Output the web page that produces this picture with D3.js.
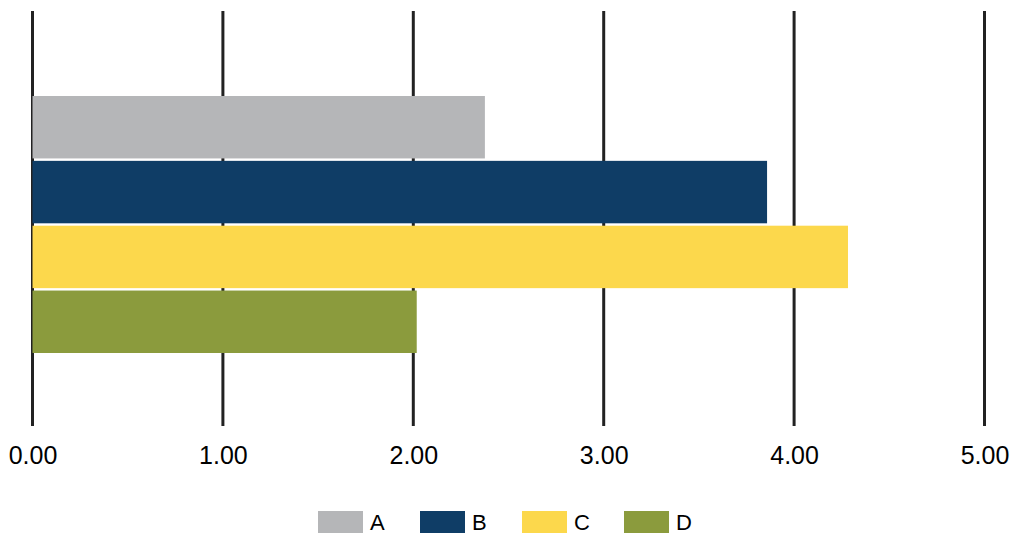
<!DOCTYPE html>
<html>
<head>
<meta charset="utf-8">
<script src="https://cdn.jsdelivr.net/npm/d3@7"></script>
<style>
  body { margin: 0; background: #fff; }
  svg text { font-family: "Liberation Sans", Helvetica, Arial, sans-serif; fill: #000; }
</style>
</head>
<body>
<svg id="chart" width="1011" height="535"></svg>
<script>
// chart data
const seriesNames = ["A", "B", "C", "D"];
const seriesValues = [2.376, 3.858, 4.283, 2.018];
const seriesColors = ["#b5b6b8", "#0f3d66", "#fcd84c", "#8b9b3d"];
const tickValues = [0, 1, 2, 3, 4, 5];

const svg = d3.select("#chart");

const x = d3.scaleLinear()
    .domain([0, 5])
    .range([32.5, 984.5]);

// bars inside the single category group
const y = d3.scaleBand()
    .domain(seriesNames)
    .range([96, 353])
    .paddingInner(0.037);

// vertical grid lines
svg.append("g")
    .selectAll("line")
    .data(tickValues)
    .enter().append("line")
    .attr("x1", d => x(d))
    .attr("x2", d => x(d))
    .attr("y1", 11)
    .attr("y2", 426)
    .attr("stroke", "#222")
    .attr("stroke-width", 3);

// bars
svg.append("g")
    .selectAll("rect")
    .data(seriesNames)
    .enter().append("rect")
    .attr("x", x(0))
    .attr("y", d => y(d))
    .attr("width", (d, i) => x(seriesValues[i]) - x(0))
    .attr("height", y.bandwidth())
    .attr("fill", (d, i) => seriesColors[i]);

// X axis labels
const xAxis = svg.append("g")
    .attr("transform", "translate(0,464)")
    .call(d3.axisBottom(x).tickValues(tickValues).tickFormat(d3.format(".2f")).tickSize(0).tickPadding(0));
xAxis.select(".domain").remove();
xAxis.selectAll("text")
    .attr("dy", null)
    .attr("y", 0)
    .style("font-size", "25px")
    .style("font-family", "\"Liberation Sans\", Helvetica, Arial, sans-serif")
    .attr("fill", "#000");

// Legend
const legend = svg.append("g")
    .selectAll("g")
    .data(seriesNames)
    .enter().append("g")
    .attr("transform", (d, i) => `translate(${318 + i * 102},511)`);

legend.append("rect")
    .attr("width", 45)
    .attr("height", 22)
    .attr("fill", (d, i) => seriesColors[i]);

legend.append("text")
    .attr("x", 52)
    .attr("y", 19)
    .style("font-size", "22px")
    .text(d => d);
</script>
</body>
</html>
